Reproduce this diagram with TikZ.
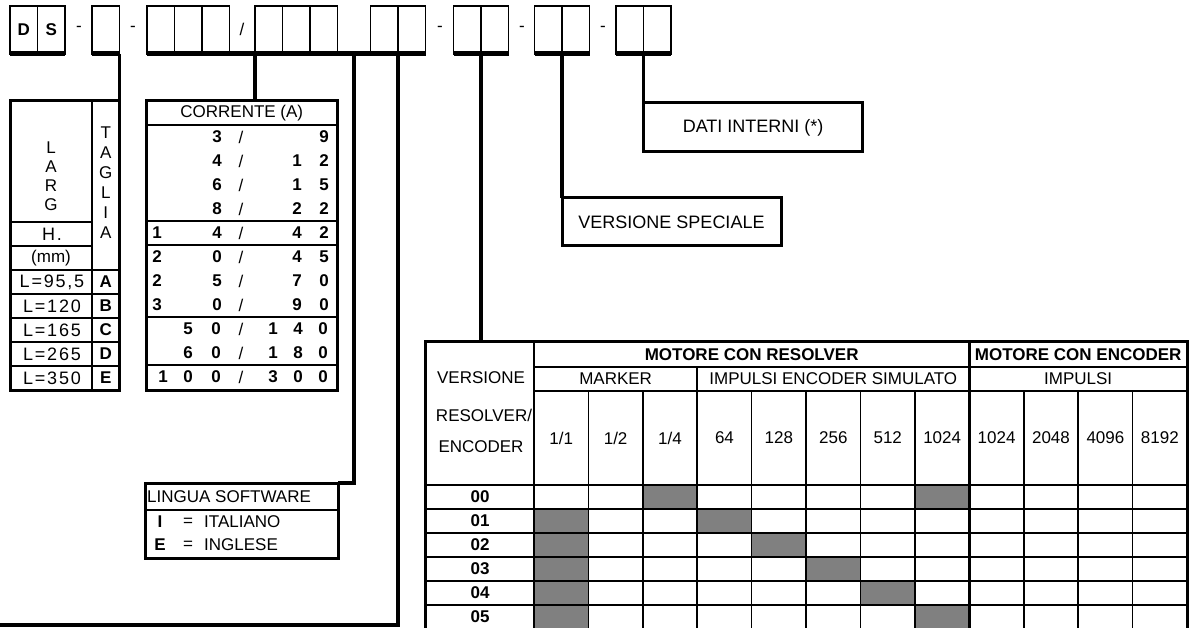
\documentclass[tikz,border=0pt]{standalone}
\usepackage{fontspec}
\setmainfont{Liberation Sans}
\newfontfamily\spreadfont[LetterSpace=10]{Liberation Sans}
\usetikzlibrary{positioning}

\begin{document}
\begin{tikzpicture}[
    x=1pt, y=-1pt,
    font=\fontsize{17}{20}\selectfont,
    cell/.style={draw, line width=1.2pt, minimum width=27.5pt, minimum height=48pt, inner sep=0pt, outer sep=0pt, font={\fontsize{17}{20}\selectfont\bfseries}},
    base/.style={line width=5pt},
    frame/.style={draw, line width=3pt, inner sep=0pt, outer sep=0pt},
    box/.style={frame, font={\fontsize{18}{21}\selectfont}},
    conn/.style={line width=3.5pt},
    gridline/.style={line width=1.6pt},
    boldline/.style={line width=2.6pt},
    num/.style={font={\fontsize{17}{20}\selectfont\bfseries}},
    spread/.style={font={\fontsize{18}{20}\spreadfont}},
    shade/.style={fill=black!50},
]
\useasboundingbox (0,0) rectangle (1189,628);
\clip (0,0) rectangle (1189,628);

% code cells
\node[cell] (d1) at (23.75,30) {D};
\node[cell, right=0pt of d1] (d2) {S};
\node[cell, right=27pt of d2] (t1) {};
\node[cell, right=27.5pt of t1] (a1) {};
\node[cell, right=0pt of a1] (a2) {};
\node[cell, right=0pt of a2] (a3) {};
\node[cell, right=25.5pt of a3] (b1) {};
\node[cell, right=0pt of b1] (b2) {};
\node[cell, right=0pt of b2] (b3) {};
\node[cell, right=33pt of b3] (e1) {};
\node[cell, right=0pt of e1] (e2) {};
\node[cell, right=28pt of e2] (v1) {};
\node[cell, right=0pt of v1] (v2) {};
\node[cell, right=26pt of v2] (s1) {};
\node[cell, right=0pt of s1] (s2) {};
\node[cell, right=26.5pt of s2] (i1) {};
\node[cell, right=0pt of i1] (i2) {};

\draw[base] (d1.south west) -- (d2.south east);
\draw[base] (t1.south west) -- (t1.south east);
\draw[base] (a1.south west) -- (e2.south east);
\draw[base] (v1.south west) -- (v2.south east);
\draw[base] (s1.south west) -- (s2.south east);
\draw[base] (i1.south west) -- (i2.south east);

\node (sep1) at (79,29) {-};
\node (sep2) at (133,29) {-};
\node (sep3) at (242,29) {/};
\node (sep4) at (440,29) {-};
\node (sep5) at (522,29) {-};
\node (sep6) at (603,29) {-};

% LARG / TAGLIA table
\draw[gridline] (92,101) -- (92,390);
\draw[gridline] (10,222) -- (92,222);
\draw[gridline] (10,246) -- (92,246);
\draw[boldline] (10,270) -- (119.5,270);
\foreach \y in {294,318,342,366}
    \draw[gridline] (10,\y) -- (119.5,\y);
\foreach \ch [count=\i] in {L,A,R,G}
    \node (lg\i) at (51,{129+\i*19}) {\ch};
\node[spread] (hh) at (52,234) {H.};
\node (mm) at (51,258) {(mm)};
\foreach \ch [count=\i] in {T,A,G,L,I,A}
    \node (tg\i) at (105.75,{113+\i*20}) {\ch};
\foreach \l/\t [count=\i] in {{L=95,5}/A, L=120/B, L=165/C, L=265/D, L=350/E} {
    \node[spread] (ll\i) at (52,{258+\i*24}) {\l};
    \node[num] (lt\i) at (105.75,{258+\i*24}) {\t};
}
\node[frame, minimum width=109.5pt, minimum height=289pt] (larg) at (64.75,245.5) {};

% CORRENTE table
\node (chead) at (241.75,113) {CORRENTE (A)};
\foreach \y in {125,221,245,317,365}
    \draw[gridline] (146,\y) -- (337.5,\y);
\foreach \y/\a/\b/\c/\d [count=\i] in {137/{}/3/{}/9, 161/{}/4/1/2, 185/{}/6/1/5, 209/{}/8/2/2,
        233/1/4/4/2, 257/2/0/4/5, 281/2/5/7/0, 305/3/0/9/0} {
    \node[num] (pa\i) at (157,\y) {\a};
    \node[num] (pb\i) at (217,\y) {\b};
    \node (ps\i) at (241,\y) {/};
    \node[num] (pc\i) at (297,\y) {\c};
    \node[num] (pd\i) at (324,\y) {\d};
}
\foreach \y/\a/\b/\c/\d/\e/\f [count=\i] in {329/{}/5/0/1/4/0, 353/{}/6/0/1/8/0, 377/1/0/0/3/0/0} {
    \node[num] (qa\i) at (163,\y) {\a};
    \node[num] (qb\i) at (188,\y) {\b};
    \node[num] (qc\i) at (216,\y) {\c};
    \node (qs\i) at (241,\y) {/};
    \node[num] (qd\i) at (273,\y) {\d};
    \node[num] (qe\i) at (298,\y) {\e};
    \node[num] (qf\i) at (323,\y) {\f};
}
\node[frame, minimum width=191.5pt, minimum height=289pt] (corr) at (241.75,245.5) {};

% LINGUA SOFTWARE
\draw[gridline] (145,510) -- (338,510);
\node[anchor=west, inner sep=1pt] (lsw) at (146,497) {LINGUA SOFTWARE};
\node[num] (li) at (160,522) {I};
\node (leq1) at (188,522) {=};
\node[anchor=west, inner sep=0pt] (lit) at (204,522) {ITALIANO};
\node[num] (le) at (160,545) {E};
\node (leq2) at (188,545) {=};
\node[anchor=west, inner sep=0pt] (lin) at (204,545) {INGLESE};
\node[frame, minimum width=193pt, minimum height=75pt] (ling) at (241.5,520.5) {};

% labels on the right
\node[box, minimum width=219.25pt, minimum height=49pt, below right=49pt and 0pt of i2.south west] (dati) {DATI INTERNI (*)};
\node[box, minimum width=219pt, minimum height=48pt, below right=144pt and 0pt of s2.south west] (spec) {VERSIONE SPECIALE};

% VERSIONE table
\def\cw{54.42}
\foreach \r/\c in {0/3,0/8,1/1,1/4,2/1,2/5,3/1,3/6,4/1,4/7,5/1,5/8}
    \fill[shade] ({534+(\c-1)*\cw},{485+\r*24}) rectangle ++(\cw,24);
\draw[gridline] (534,367) -- (1187,367);
\draw[gridline] (534,391) -- (1187,391);
\foreach \y in {485,509,533,557,581,605}
    \draw[gridline] (425,\y) -- (1187,\y);
\draw[boldline] (534,342) -- (534,629);
\draw[boldline] ({534+8*\cw},342) -- ({534+8*\cw},629);
\draw[gridline] ({534+3*\cw},367) -- ({534+3*\cw},629);
\foreach \k in {1,2,4,5,6,7,9,10,11}
    \draw[gridline] ({534+\k*\cw},391) -- ({534+\k*\cw},629);

\node[num] (hres) at ({534+4*\cw},354.5) {MOTORE CON RESOLVER};
\node[num] (henc) at ({534+10*\cw},354.5) {MOTORE CON ENCODER};
\node (hmark) at ({534+1.5*\cw},379) {MARKER};
\node (hsim) at ({534+5.5*\cw},379) {IMPULSI ENCODER SIMULATO};
\node (himp) at ({534+10*\cw},379) {IMPULSI};
\foreach \v [count=\k] in {{1/1},{1/2},{1/4},64,128,256,512,1024,1024,2048,4096,8192}
    \node (val\k) at ({534+(\k-0.5)*\cw},438) {\v};
\node (vt1) at (481,378) {VERSIONE};
\node (vt2) at (484,415) {RESOLVER/};
\node (vt3) at (481,447) {ENCODER};
\foreach \r in {0,...,5}
    \node[num] (row\r) at (480,{497+\r*24}) {0\r};
\node[frame, minimum width=762pt, minimum height=287pt] (vers) at (806,485.5) {};

% connectors
\coordinate (gap) at (354,54);
\coordinate (edge) at (0,625);
\draw[conn] (t1.south east) -- (larg.north east);
\draw[conn] (b1.south west) -- (b1.south west |- corr.north);
\draw[conn] (gap) |- (ling.north east);
\draw[conn] (e2.south west) |- (edge);
\draw[conn] (v2.south west) -- (v2.south west |- vers.north);
\draw[conn] (s2.south west) -- (spec.north west);
\draw[conn] (i2.south west) -- (dati.north west);
\end{tikzpicture}
\end{document}
